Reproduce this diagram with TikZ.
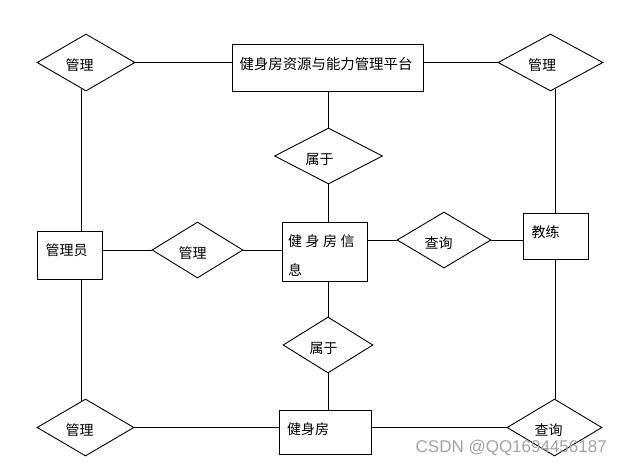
\documentclass[tikz,border=0pt]{standalone}
\usepackage{fontspec}
\newfontfamily\cjk{Noto Sans CJK SC}
\newfontfamily\wmfont{Liberation Sans}
\usetikzlibrary{shapes.geometric}
\definecolor{wmgray}{RGB}{165,165,165}
\tikzset{
  ent/.style={draw, rectangle, line width=0.9pt, inner sep=0pt},
  rel/.style={draw, diamond, line width=0.9pt, inner sep=0pt},
  txt/.style={font=\cjk\fontsize{14}{16}\selectfont, inner sep=0pt},
  conn/.style={line width=0.9pt},
}
\begin{document}
\begin{tikzpicture}[x=1pt,y=-1pt]
\path[use as bounding box, fill=white] (0,0) rectangle (622,467);

% shapes
\node[ent, minimum width=191pt, minimum height=47pt] (p) at (327.5,67.5) {};
\node[rel, minimum width=98pt, minimum height=57pt] (dTL) at (86,62.5) {};
\node[rel, minimum width=105pt, minimum height=57pt] (dTR) at (550.5,62.5) {};
\node[rel, minimum width=108pt, minimum height=56pt] (dB1) at (328.5,156) {};
\node[ent, minimum width=85pt, minimum height=59pt] (info) at (324.5,251.5) {};
\node[rel, minimum width=94pt, minimum height=56pt] (dQ) at (444,240) {};
\node[ent, minimum width=65pt, minimum height=46pt] (coach) at (555.5,236) {};
\node[ent, minimum width=65pt, minimum height=48pt] (admin) at (69.5,255) {};
\node[rel, minimum width=91pt, minimum height=56pt] (dM) at (197.5,250) {};
\node[rel, minimum width=90pt, minimum height=56pt] (dB2) at (328,345) {};
\node[rel, minimum width=97pt, minimum height=57pt] (dBL) at (85.5,427.5) {};
\node[ent, minimum width=92pt, minimum height=44pt] (gym) at (325,432) {};
\node[rel, minimum width=95pt, minimum height=57pt] (dBR) at (554.5,427.5) {};

% texts
\node[txt, font=\cjk\fontsize{14.4}{17}\selectfont] (tp) at (326,64.5) {健身房资源与能力管理平台};
\node[txt] (tTL) at (79.5,65.5) {管理};
\node[txt] (tTR) at (542,65) {管理};
\node[txt] (tB1) at (319.5,159) {属于};
\node[txt, anchor=west] (ti1) at (288,241.5) {健\hspace{3.5pt}身\hspace{3.5pt}房\hspace{3.5pt}信};
\node[txt, anchor=west] (ti2) at (288,269.5) {息};
\node[txt] (tQ) at (438.5,243) {查询};
\node[txt] (tc) at (545.5,232.5) {教练};
\node[txt] (ta) at (66.5,250) {管理员};
\node[txt] (tM) at (192.5,253.5) {管理};
\node[txt] (tB2) at (323.5,348) {属于};
\node[txt] (tBL) at (79.5,430) {管理};
\node[txt, anchor=west] (tg) at (287,429) {健身房};
\node[txt] (tBR) at (548.5,430) {查询};
\node[font=\wmfont\fontsize{17}{19}\selectfont, text=wmgray, inner sep=0pt, anchor=east] (wm) at (607,448) {CSDN @QQ1694456187};

% connectors
\draw[conn] (dTL.east) -- (dTL.east -| p.west);
\draw[conn] (dTR.west) -- (dTR.west -| p.east);
\draw[conn] (dB1.north) -- (dB1.north |- p.south);
\draw[conn] (dB1.south) -- (dB1.south |- info.north);
\draw[conn] (dB2.north) -- (dB2.north |- info.south);
\draw[conn] (dB2.south) -- (dB2.south |- gym.north);
\draw[conn] (dQ.west) -- (dQ.west -| info.east);
\draw[conn] (dQ.east) -- (dQ.east -| coach.west);
\draw[conn] (dM.west) -- (dM.west -| admin.east);
\draw[conn] (dM.east) -- (dM.east -| info.west);
\draw[conn] ([xshift=12pt]admin.north) -- ([xshift=-4.5pt,yshift=2.6pt]dTL.south);
\draw[conn] ([xshift=12pt]admin.south) -- ([xshift=-4pt,yshift=-2.3pt]dBL.north);
\draw[conn] (coach.north) -- ([xshift=5pt,yshift=2.4pt]dTR.south);
\draw[conn] (coach.south) -- (coach.south |- dBR.north);
\draw[conn] (dBL.east) -- (dBL.east -| gym.west);
\draw[conn] (dBR.west) -- (dBR.west -| gym.east);
\end{tikzpicture}
\end{document}
